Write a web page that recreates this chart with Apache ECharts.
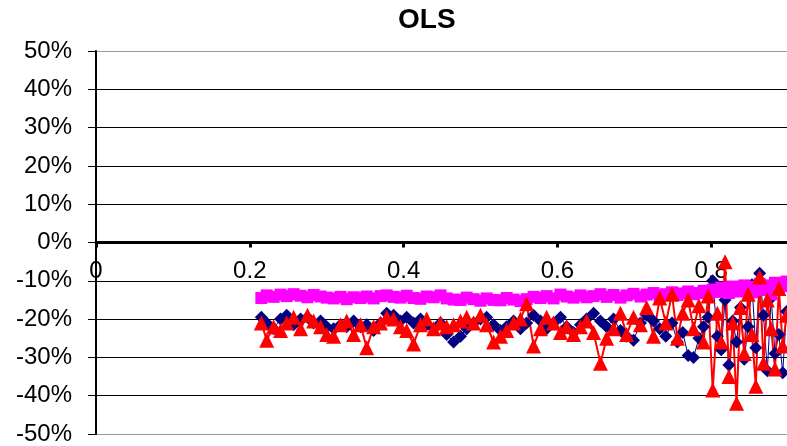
<!DOCTYPE html>
<html>
<head>
<meta charset="utf-8">
<title>OLS</title>
<script src="https://cdn.jsdelivr.net/npm/echarts@6/dist/echarts.min.js"></script>
<style>
  html, body { margin: 0; padding: 0; background: #fff; }
  #main { width: 787px; height: 446px; }
</style>
</head>
<body>
<div id="main"></div>
<script>
// x positions shared by the three series
var xs = [0.215, 0.222, 0.231, 0.240, 0.248, 0.257, 0.266, 0.275, 0.283, 0.292,
    0.300, 0.309, 0.318, 0.326, 0.335, 0.344, 0.352, 0.361, 0.370, 0.378,
    0.387, 0.396, 0.404, 0.413, 0.422, 0.430, 0.439, 0.448, 0.456, 0.465,
    0.474, 0.482, 0.491, 0.500, 0.508, 0.517, 0.526, 0.534, 0.543, 0.552,
    0.560, 0.569, 0.578, 0.586, 0.595, 0.604, 0.612, 0.621, 0.630, 0.638,
    0.647, 0.656, 0.664, 0.673, 0.682, 0.690, 0.699, 0.708, 0.716, 0.725,
    0.733, 0.741, 0.749, 0.756, 0.763, 0.770, 0.777, 0.784, 0.790, 0.796,
    0.802, 0.808, 0.813, 0.818, 0.823, 0.828, 0.833, 0.838, 0.843, 0.848,
    0.853, 0.858, 0.863, 0.868, 0.873, 0.878, 0.883, 0.888, 0.893, 0.898];

// values in percent
var blueVals = [-19.5, -21.0, -22.5, -20.0, -19.0, -21.5, -20.0, -19.5, -21.0, -20.5,
    -22.0, -22.5, -21.5, -22.0, -20.5, -22.0, -21.5, -23.0, -21.0, -18.5,
    -19.0, -20.5, -19.5, -21.0, -20.0, -21.5, -22.5, -21.0, -24.0, -26.0,
    -24.5, -22.5, -21.0, -20.0, -19.5, -21.5, -23.0, -22.0, -20.5, -22.5,
    -21.0, -19.0, -20.5, -22.5, -21.0, -19.5, -22.0, -23.5, -21.5, -20.0,
    -18.5, -20.5, -22.0, -20.0, -23.0, -24.5, -25.5, -21.0, -19.0, -20.5,
    -22.5, -24.5, -21.0, -26.0, -23.5, -29.5, -30.0, -25.0, -22.0, -19.5,
    -10.0, -24.5, -28.0, -15.0, -32.0, -20.5, -26.0, -17.0, -30.5, -22.0,
    -11.0, -27.5, -8.0, -19.0, -33.5, -14.5, -29.0, -24.0, -34.0, -18.0];

var pinkVals = [-14.5, -13.8, -14.2, -13.6, -14.0, -13.5, -13.9, -14.3, -13.7, -14.1,
    -14.4, -14.6, -14.2, -14.8, -14.3, -14.5, -14.1, -14.6, -14.0, -13.8,
    -14.2, -14.4, -13.9, -14.5, -14.7, -14.1, -14.3, -13.8, -14.6, -14.9,
    -15.0, -14.4, -14.8, -15.2, -14.6, -15.0, -15.1, -14.5, -14.9, -15.3,
    -14.8, -14.2, -14.5, -14.0, -14.6, -13.6, -14.1, -14.4, -13.8, -14.3,
    -14.0, -13.5, -14.2, -13.7, -14.4, -13.8, -13.4, -14.1, -13.6, -13.2,
    -13.9, -13.5, -13.0, -13.7, -13.3, -12.8, -13.5, -13.2, -12.6, -13.1,
    -12.3, -12.9, -11.8, -12.5, -13.2, -11.5, -12.2, -12.8, -11.2, -12.0,
    -13.0, -11.6, -10.8, -12.4, -11.2, -13.5, -10.5, -12.0, -11.4, -10.2];

var redVals = [-21.0, -25.5, -22.0, -23.0, -21.0, -19.5, -22.5, -19.0, -20.5, -22.0,
    -24.0, -24.5, -21.5, -20.5, -24.0, -21.5, -27.5, -22.0, -21.0, -19.5,
    -20.0, -22.0, -23.0, -26.5, -21.5, -20.0, -22.5, -21.0, -22.0, -21.5,
    -20.5, -19.5, -21.0, -19.0, -21.5, -26.0, -24.5, -23.0, -21.0, -20.0,
    -16.0, -27.0, -22.5, -19.5, -21.0, -23.5, -22.0, -24.0, -22.0, -20.5,
    -23.5, -31.5, -25.0, -22.5, -18.5, -24.0, -19.5, -21.5, -17.0, -24.5,
    -14.5, -21.0, -13.5, -25.0, -18.5, -15.0, -22.5, -16.5, -26.0, -14.0,
    -38.5, -18.5, -26.0, -5.0, -35.0, -21.0, -42.0, -17.0, -29.0, -13.5,
    -24.0, -37.5, -9.0, -31.5, -15.0, -22.5, -33.0, -12.0, -27.0, -19.0];

var yMin = -50, yMax = 50, yStep = 10;
var xMin = 0, xMax = 1, xStep = 0.2;

function pairs(vals) {
    return xs.map(function (x, i) { return [x, vals[i]]; });
}

var myChart = echarts.init(document.getElementById('main'));

var gridTop = 51, gridBottom = 12;
var plotH = 446 - gridTop - gridBottom;
// x axis sits on the 0% line: shift it up from the bottom edge
var zeroOffset = -plotH * (0 - yMin) / (yMax - yMin);

// outer border lines grey, inner grid lines black
var gridColors = [];
for (var v = yMin; v <= yMax; v += yStep) {
    gridColors.push(v === yMin || v === yMax ? '#999999' : '#000000');
}

var font = '"Liberation Sans", Arial, sans-serif';

var option = {
    backgroundColor: '#ffffff',
    animation: false,
    title: {
        text: 'OLS',
        left: 398,
        top: 6,
        padding: 0,
        textStyle: { fontFamily: font, fontSize: 28, fontWeight: 'bold', color: '#000' }
    },
    grid: {
        left: 96, top: gridTop, bottom: gridBottom, right: -78,
        containLabel: false, outerBoundsMode: 'none'
    },
    xAxis: {
        type: 'value',
        min: xMin, max: xMax, interval: xStep,
        offset: zeroOffset,
        axisLine: { onZero: false, lineStyle: { color: '#000', width: 3 } },
        axisTick: { show: true, length: 5, lineStyle: { color: '#000', width: 3 } },
        axisLabel: {
            fontFamily: font, fontSize: 24, color: '#000', margin: 17,
            formatter: function (v) { return String(Math.round(v * 10) / 10); }
        },
        splitLine: { show: false }
    },
    yAxis: {
        type: 'value',
        min: yMin, max: yMax, interval: yStep,
        axisLine: { show: true, onZero: false, lineStyle: { color: '#000', width: 2 } },
        axisTick: { show: true, length: 8, lineStyle: { color: '#000', width: 1 } },
        axisLabel: {
            fontFamily: font, fontSize: 24, color: '#000', margin: 24,
            formatter: function (v) { return v + '%'; }
        },
        splitLine: { show: true, lineStyle: { color: gridColors, width: 1 } }
    },
    series: [
        {
            name: 'blue', type: 'line', data: pairs(blueVals),
            symbol: 'diamond', symbolSize: 13,
            lineStyle: { color: '#000080', width: 1 },
            itemStyle: { color: '#000080' }
        },
        {
            name: 'pink', type: 'line', data: pairs(pinkVals),
            symbol: 'rect', symbolSize: 12,
            lineStyle: { color: '#ff00ff', width: 1 },
            itemStyle: { color: '#ff00ff' }
        },
        {
            name: 'red', type: 'line', data: pairs(redVals),
            symbol: 'triangle', symbolSize: 15,
            lineStyle: { color: '#ff0000', width: 2 },
            itemStyle: { color: '#ff0000' }
        }
    ]
};

myChart.setOption(option);
</script>
</body>
</html>
